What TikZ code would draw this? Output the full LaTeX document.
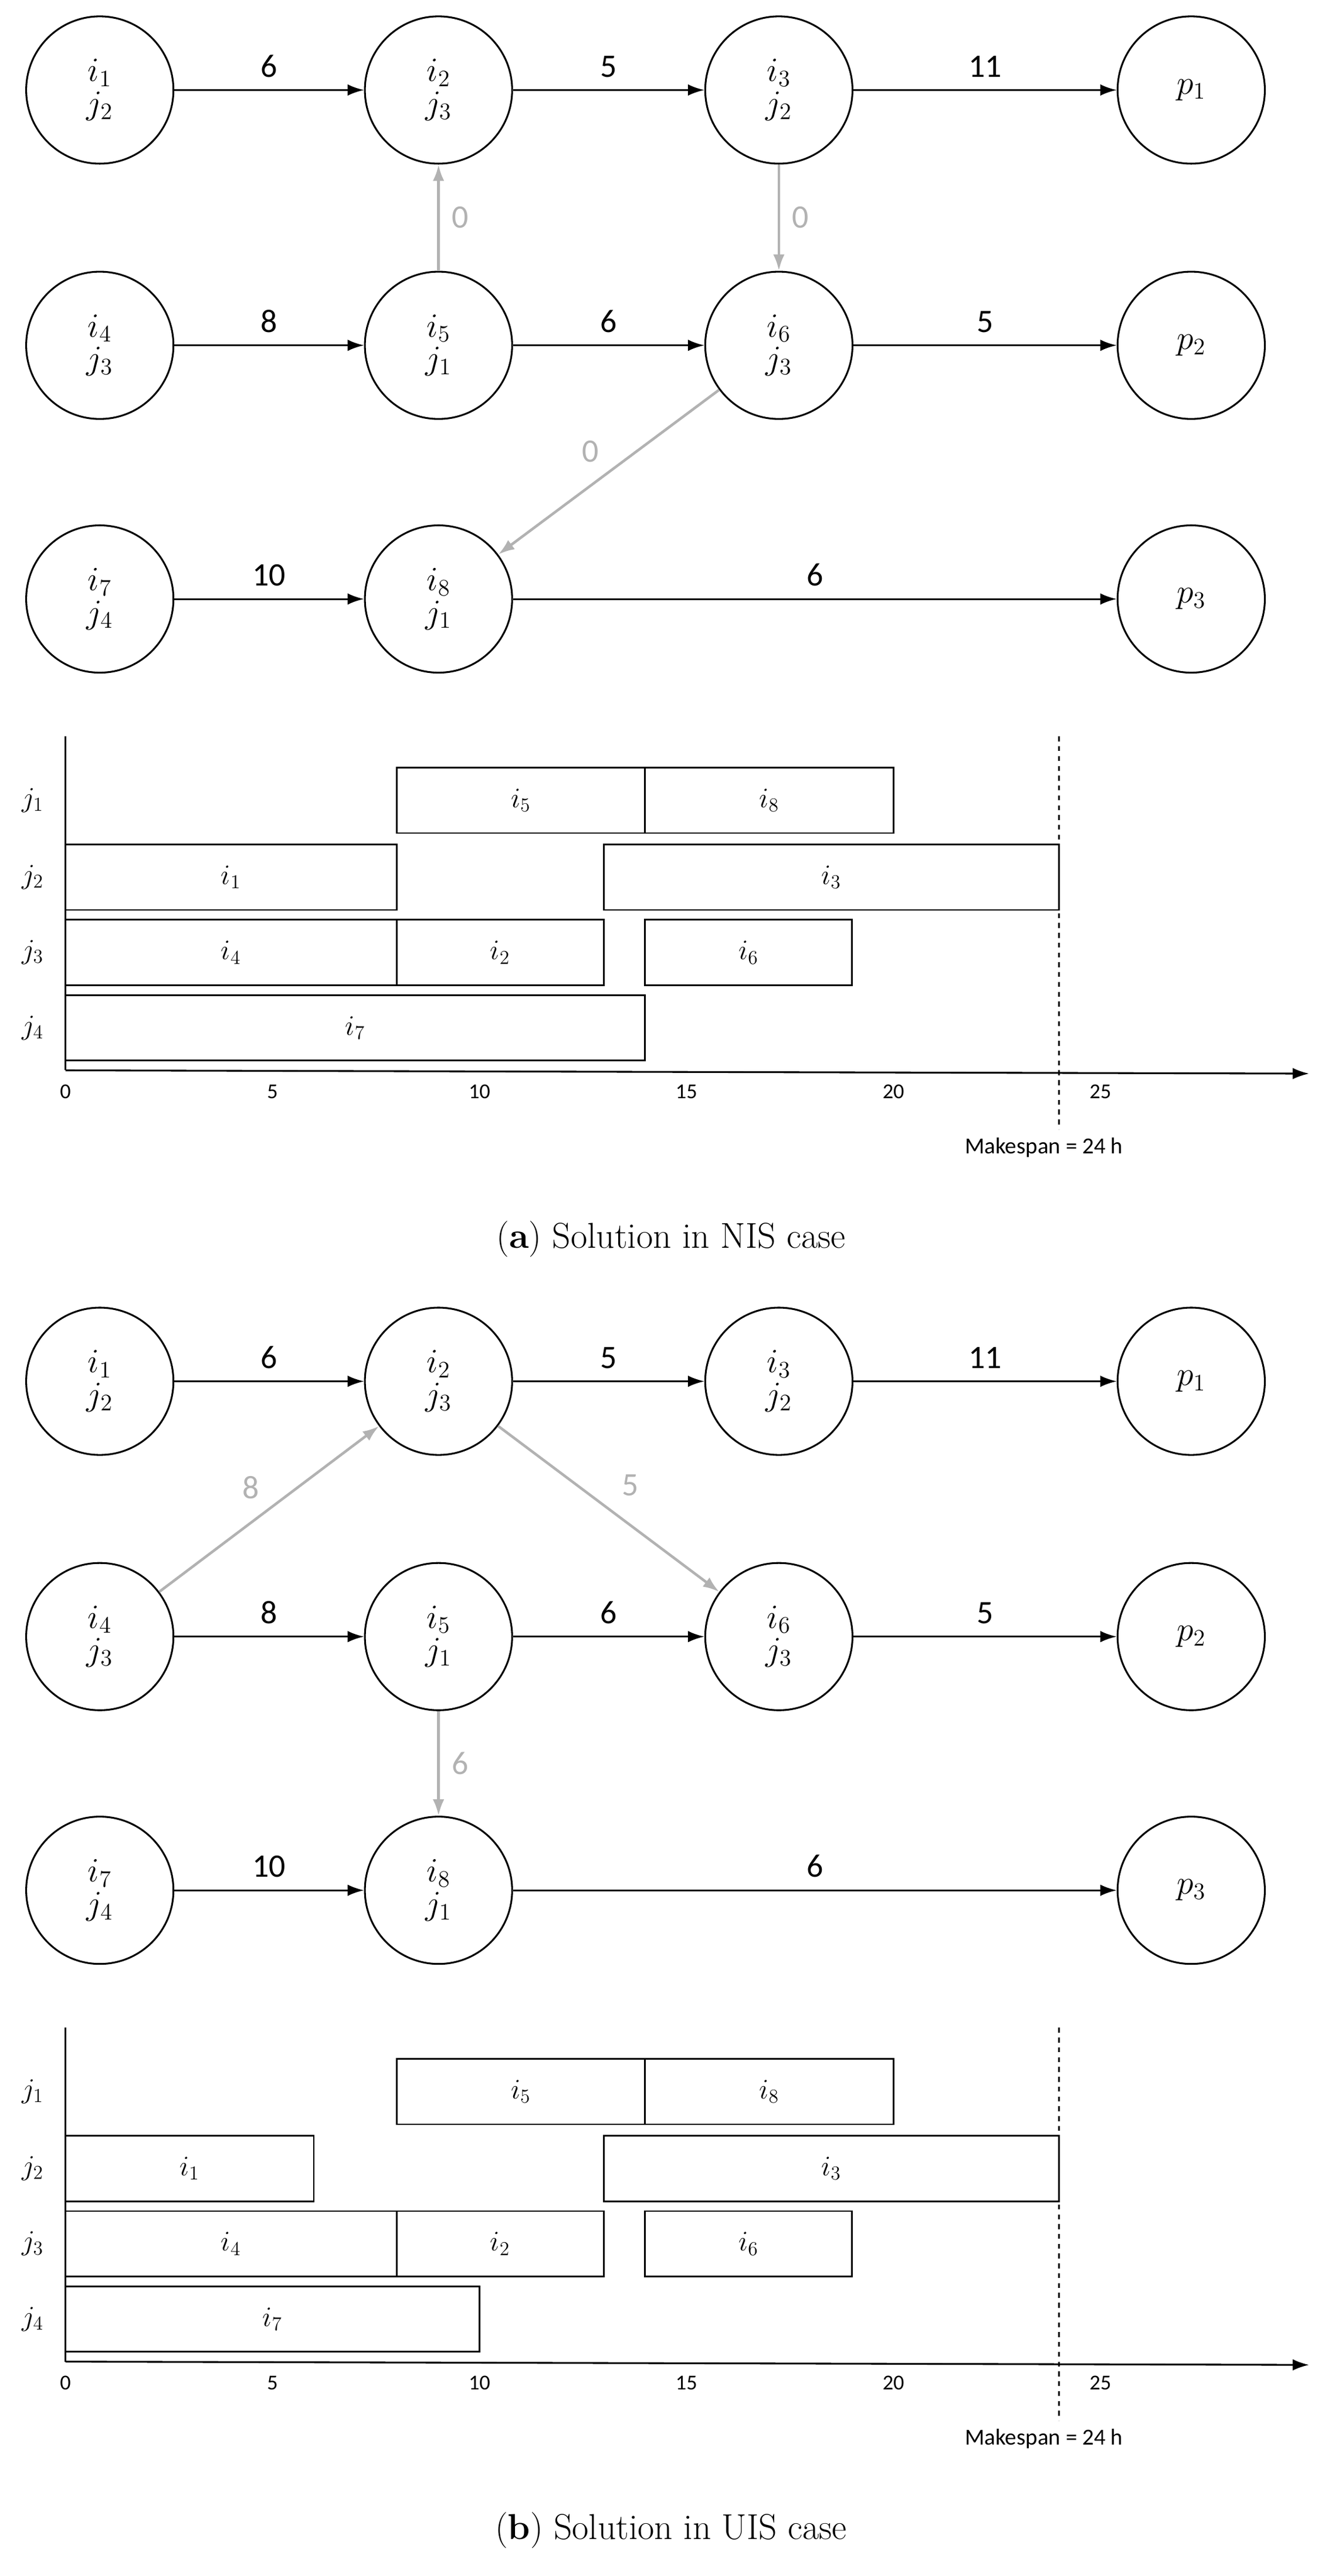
\documentclass[tikz,border=0pt]{standalone}
\usepackage{fontspec}
\newfontfamily\sansf{Carlito}
\usetikzlibrary{arrows.meta}
\begin{document}
\begin{tikzpicture}[x=1pt,y=-1pt,
  st/.style={circle,draw,line width=1.1pt,minimum size=90pt,inner sep=0pt,font=\fontsize{22}{24}\selectfont,align=center},
  ar/.style={line width=1.1pt,-{Latex[length=10pt,width=7pt]}},
  gr/.style={line width=1.6pt,draw=gray!60,-{Latex[length=10pt,width=7pt]}},
  lb/.style={font=\sansf\fontsize{20}{22}\selectfont},
  glb/.style={font=\sansf\fontsize{20}{22}\selectfont,text=gray!60},
  bar/.style={line width=1pt},
  tk/.style={font=\sansf\fontsize{13}{15}\selectfont},
  rl/.style={font=\fontsize{17}{19}\selectfont},
  captxt/.style={font=\fontsize{22}{26}\selectfont}]
\useasboundingbox (0,0) rectangle (820,1574);
% ---------- panel a ----------
\begin{scope}
\node[st] (a1) at (61,55) {$i_1$\\[-4pt]$j_2$};
\node[st] (a2) at (268,55) {$i_2$\\[-4pt]$j_3$};
\node[st] (a3) at (476,55) {$i_3$\\[-4pt]$j_2$};
\node[st] (ap1) at (728,55) {$p_1$};
\node[st] (a4) at (61,211) {$i_4$\\[-4pt]$j_3$};
\node[st] (a5) at (268,211) {$i_5$\\[-4pt]$j_1$};
\node[st] (a6) at (476,211) {$i_6$\\[-4pt]$j_3$};
\node[st] (ap2) at (728,211) {$p_2$};
\node[st] (a7) at (61,366) {$i_7$\\[-4pt]$j_4$};
\node[st] (a8) at (268,366) {$i_8$\\[-4pt]$j_1$};
\node[st] (ap3) at (728,366) {$p_3$};
\draw[ar] (a1) -- node[lb,above=4pt]{6} (a2);
\draw[ar] (a2) -- node[lb,above=4pt]{5} (a3);
\draw[ar] (a3) -- node[lb,above=4pt]{11} (ap1);
\draw[ar] (a4) -- node[lb,above=4pt]{8} (a5);
\draw[ar] (a5) -- node[lb,above=4pt]{6} (a6);
\draw[ar] (a6) -- node[lb,above=4pt]{5} (ap2);
\draw[ar] (a7) -- node[lb,above=4pt]{10} (a8);
\draw[ar] (a8) -- node[lb,above=4pt]{6} (ap3);
\draw[gr] (a5) -- node[glb,right=4pt]{0} (a2);
\draw[gr] (a3) -- node[glb,right=4pt]{0} (a6);
\draw[gr] (a6) -- node[glb,above left=2pt]{0} (a8);
% gantt
\draw[line width=1.1pt] (40,450) -- (40,654);
\draw[line width=1.1pt,-{Latex[length=10pt,width=7pt]}] (40,654) -- (800,656);
\foreach \t in {0,5,10,15,20,25} \node[tk] at ({40+25.3*\t},667) {\t};
\node[rl] at (20,489) {$j_1$};
\node[rl] at (20,536) {$j_2$};
\node[rl] at (20,582) {$j_3$};
\node[rl] at (20,628) {$j_4$};
\draw[bar] ({40+25.3*8},469) rectangle ({40+25.3*14},509) node[midway,rl]{$i_5$};
\draw[bar] ({40+25.3*14},469) rectangle ({40+25.3*20},509) node[midway,rl]{$i_8$};
\draw[bar] (40,516) rectangle ({40+25.3*8},556) node[midway,rl]{$i_1$};
\draw[bar] ({40+25.3*13},516) rectangle ({40+25.3*24},556) node[midway,rl]{$i_3$};
\draw[bar] (40,562) rectangle ({40+25.3*8},602) node[midway,rl]{$i_4$};
\draw[bar] ({40+25.3*8},562) rectangle ({40+25.3*13},602) node[midway,rl]{$i_2$};
\draw[bar] ({40+25.3*14},562) rectangle ({40+25.3*19},602) node[midway,rl]{$i_6$};
\draw[bar] (40,608) rectangle ({40+25.3*14},648) node[midway,rl]{$i_7$};
\draw[line width=1pt,dashed] ({40+25.3*24},450) -- ({40+25.3*24},690);
\node[font=\sansf\fontsize{14}{16}\selectfont] at (638,701) {Makespan = 24 h};
\node[captxt] at (410,757) {(\textbf{a}) Solution in NIS case};
\end{scope}
% ---------- panel b ----------
\begin{scope}[yshift=-789pt]
\node[st] (b1) at (61,55) {$i_1$\\[-4pt]$j_2$};
\node[st] (b2) at (268,55) {$i_2$\\[-4pt]$j_3$};
\node[st] (b3) at (476,55) {$i_3$\\[-4pt]$j_2$};
\node[st] (bp1) at (728,55) {$p_1$};
\node[st] (b4) at (61,211) {$i_4$\\[-4pt]$j_3$};
\node[st] (b5) at (268,211) {$i_5$\\[-4pt]$j_1$};
\node[st] (b6) at (476,211) {$i_6$\\[-4pt]$j_3$};
\node[st] (bp2) at (728,211) {$p_2$};
\node[st] (b7) at (61,366) {$i_7$\\[-4pt]$j_4$};
\node[st] (b8) at (268,366) {$i_8$\\[-4pt]$j_1$};
\node[st] (bp3) at (728,366) {$p_3$};
\draw[ar] (b1) -- node[lb,above=4pt]{6} (b2);
\draw[ar] (b2) -- node[lb,above=4pt]{5} (b3);
\draw[ar] (b3) -- node[lb,above=4pt]{11} (bp1);
\draw[ar] (b4) -- node[lb,above=4pt]{8} (b5);
\draw[ar] (b5) -- node[lb,above=4pt]{6} (b6);
\draw[ar] (b6) -- node[lb,above=4pt]{5} (bp2);
\draw[ar] (b7) -- node[lb,above=4pt]{10} (b8);
\draw[ar] (b8) -- node[lb,above=4pt]{6} (bp3);
\draw[gr] (b4) -- node[glb,above left=2pt]{8} (b2);
\draw[gr] (b2) -- node[glb,above right=4pt]{5} (b6);
\draw[gr] (b5) -- node[glb,right=4pt]{6} (b8);
\draw[line width=1.1pt] (40,450) -- (40,654);
\draw[line width=1.1pt,-{Latex[length=10pt,width=7pt]}] (40,654) -- (800,656);
\foreach \t in {0,5,10,15,20,25} \node[tk] at ({40+25.3*\t},667) {\t};
\node[rl] at (20,489) {$j_1$};
\node[rl] at (20,536) {$j_2$};
\node[rl] at (20,582) {$j_3$};
\node[rl] at (20,628) {$j_4$};
\draw[bar] ({40+25.3*8},469) rectangle ({40+25.3*14},509) node[midway,rl]{$i_5$};
\draw[bar] ({40+25.3*14},469) rectangle ({40+25.3*20},509) node[midway,rl]{$i_8$};
\draw[bar] (40,516) rectangle ({40+25.3*6},556) node[midway,rl]{$i_1$};
\draw[bar] ({40+25.3*13},516) rectangle ({40+25.3*24},556) node[midway,rl]{$i_3$};
\draw[bar] (40,562) rectangle ({40+25.3*8},602) node[midway,rl]{$i_4$};
\draw[bar] ({40+25.3*8},562) rectangle ({40+25.3*13},602) node[midway,rl]{$i_2$};
\draw[bar] ({40+25.3*14},562) rectangle ({40+25.3*19},602) node[midway,rl]{$i_6$};
\draw[bar] (40,608) rectangle ({40+25.3*10},648) node[midway,rl]{$i_7$};
\draw[line width=1pt,dashed] ({40+25.3*24},450) -- ({40+25.3*24},690);
\node[font=\sansf\fontsize{14}{16}\selectfont] at (638,701) {Makespan = 24 h};
\node[captxt] at (410,757) {(\textbf{b}) Solution in UIS case};
\end{scope}
\end{tikzpicture}
\end{document}
